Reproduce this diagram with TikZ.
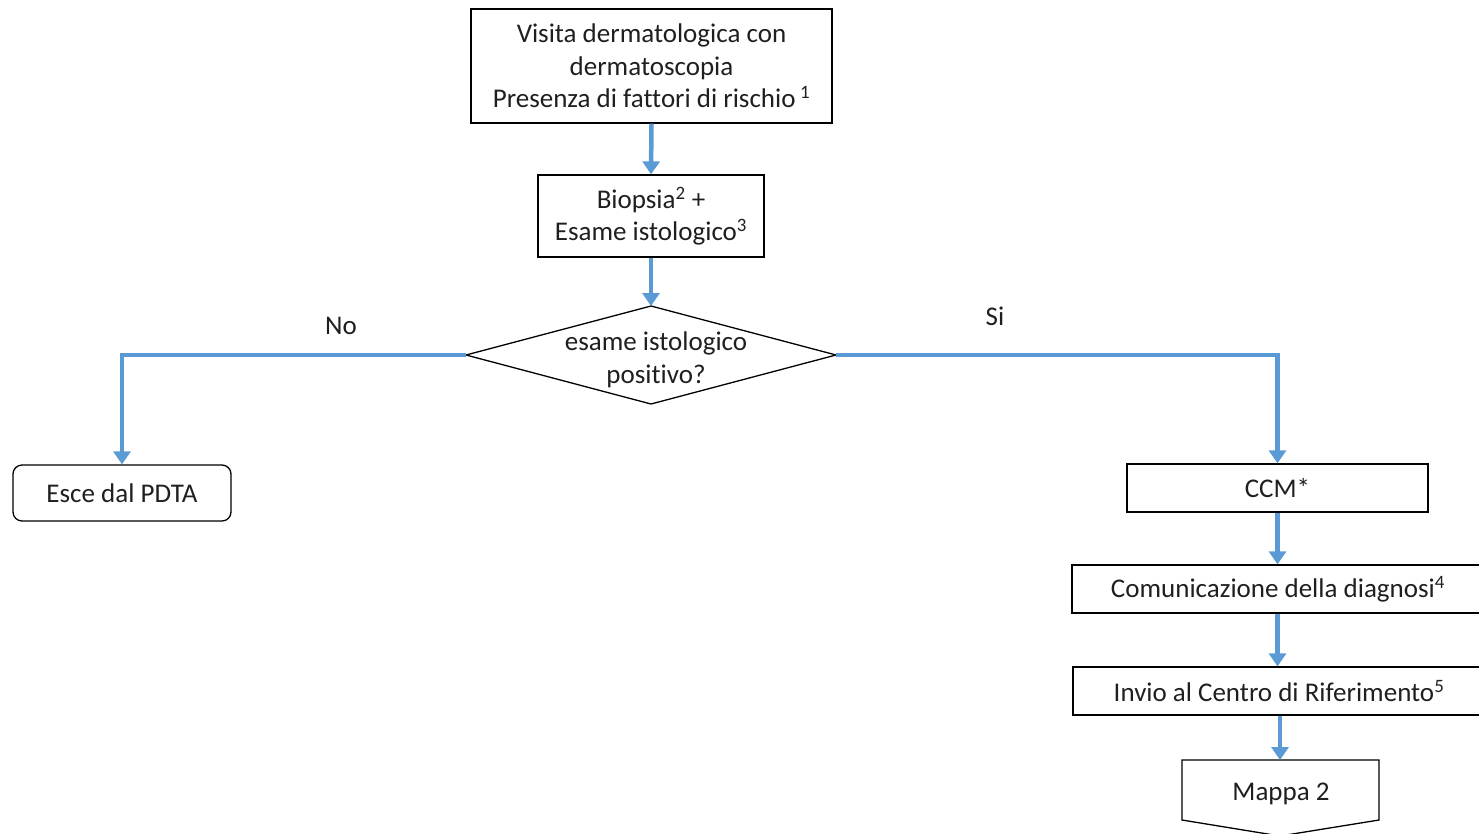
\documentclass[tikz,border=0pt]{standalone}
\usepackage{fontspec}
\setmainfont{Carlito}[Ligatures=NoCommon]
\usetikzlibrary{arrows.meta}
\definecolor{arrblue}{HTML}{5B9BD5}
\definecolor{txt}{HTML}{1F1F1F}
\begin{document}
\begin{tikzpicture}[x=1pt,y=-1pt,
  every node/.style={font=\fontsize{27}{32.5}\selectfont, text=txt},
  box/.style={draw=black, line width=1.3pt, align=center, inner sep=0pt},
  rbox/.style={box, rounded corners=9pt},
  flow/.style={draw=arrblue, line width=4.5pt, -{Triangle[width=17pt,length=13pt]}},
  shp/.style={draw=black, line width=1.3pt},
  lbl/.style={inner sep=0pt}
]
\useasboundingbox (0,0) rectangle (1479,833);

\node[box, minimum width=361pt, minimum height=114pt] (visita) at (651.5,66)
  {Visita dermatologica con\\dermatoscopia\\Presenza di fattori di rischio\,\textsuperscript{1}};
\node[box, minimum width=226pt, minimum height=82pt] (biopsia) at (651,216)
  {Biopsia\textsuperscript{2} +\\Esame istologico\textsuperscript{3}};

\coordinate (dt) at (651,306);
\coordinate (dr) at (836,355);
\coordinate (db) at (651,404);
\coordinate (dl) at (466,355);
\draw[shp] (dt) -- (dr) -- (db) -- (dl) -- cycle;
\node[align=center, inner sep=0pt] (dq) at (656,360) {esame istologico\\positivo?};

\node[rbox, minimum width=218pt, minimum height=56pt] (esce) at (122,493) {Esce dal PDTA};
\node[box, minimum width=301pt, minimum height=48pt] (ccm) at (1277.5,488) {CCM*};
\node[box, minimum width=412pt, minimum height=48pt] (comu) at (1278,589) {Comunicazione della diagnosi\textsuperscript{4}};
\node[box, minimum width=412pt, minimum height=48pt] (invio) at (1279,691) {Invio al Centro di Riferimento\textsuperscript{5}};

\coordinate (mtl) at (1182,760);
\coordinate (mtr) at (1379,760);
\coordinate (mbr) at (1379,820);
\coordinate (mbp) at (1280,836);
\coordinate (mbl) at (1182,820);
\draw[shp] (mtl) -- (mtr) -- (mbr) -- (mbp) -- (mbl) -- cycle;
\node[inner sep=0pt] (mappa) at (1281,794) {Mappa 2};
\coordinate (mtop) at (1280,760);

\draw[flow] (visita.south) -- (biopsia.north);
\draw[flow] (biopsia.south) -- (dt);
\draw[flow] (dl) -| (esce.north);
\draw[flow] (dr) -| (ccm.north);
\draw[flow] (ccm.south) -- (comu.north -| ccm.south);
\draw[flow] (comu.south -| ccm.south) -- (invio.north -| ccm.south);
\draw[flow] (invio.south -| mtop) -- (mtop);

\node[lbl] (no) at (341,326) {No};
\node[lbl] (si) at (995,316) {Si};
\end{tikzpicture}
\end{document}
